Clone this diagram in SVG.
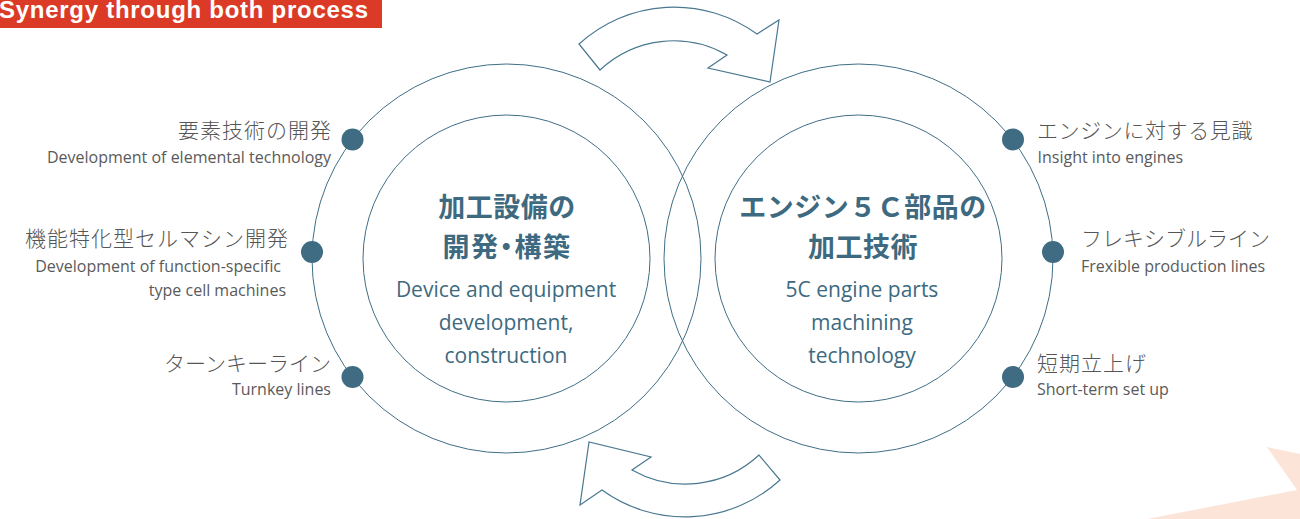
<svg xmlns="http://www.w3.org/2000/svg" width="1300" height="519" viewBox="0 0 1300 519">
<style>
.ring{fill:none;stroke:#3f6e86;stroke-width:1}
.arrow{fill:#ffffff;stroke:#4a7891;stroke-width:1.2;stroke-linejoin:miter}
.dot{fill:#3f6c82}
.jp{font-family:"Noto Sans CJK JP","Noto Sans",sans-serif;font-size:21px;font-weight:300;fill:#555555;letter-spacing:1px}
.kana{letter-spacing:0px}
.en{font-family:"Open Sans","Noto Sans",sans-serif;font-size:16px;fill:#5a5a5a}
.tjp{font-family:"Noto Sans CJK JP","Noto Sans",sans-serif;font-size:27px;font-weight:700;fill:#3d6a80;text-anchor:middle;letter-spacing:0.5px}
.palt{font-feature-settings:"palt" 1;letter-spacing:1.5px}
.ten{font-family:"Open Sans","Noto Sans",sans-serif;font-size:21px;fill:#3d6a80;text-anchor:middle}
.end{text-anchor:end}
</style>
<rect width="1300" height="519" fill="#ffffff"/>
<polygon points="1267,447 1300,454 1300,519 1147,519 1297,490" fill="#fde4d9"/>
<g id="header">
<rect x="0" y="0" width="382" height="28" fill="#db3b26"/>
<text x="-1" y="17.5" font-family="Liberation Sans, Arial, sans-serif" font-size="24" font-weight="700" fill="#ffffff" textLength="369" lengthAdjust="spacing">Synergy through both process</text>
</g>
<g id="node-left">
<circle class="ring" cx="506.5" cy="258.5" r="194.5"/>
<circle class="ring" cx="506.5" cy="258.5" r="143.5"/>
<text class="tjp" x="507" y="217">加工設備の</text>
<text class="tjp palt" x="507" y="257">開発・構築</text>
<text class="ten" x="506" y="297">Device and equipment</text>
<text class="ten" x="506" y="330">development,</text>
<text class="ten" x="506" y="363">construction</text>
</g>
<g id="node-right">
<circle class="ring" cx="858.5" cy="258.5" r="194.5"/>
<circle class="ring" cx="858.5" cy="258.5" r="143.5"/>
<text class="tjp" x="863" y="217">エンジン５Ｃ部品の</text>
<text class="tjp" x="863" y="257">加工技術</text>
<text class="ten" x="862" y="297">5C engine parts</text>
<text class="ten" x="862" y="330">machining</text>
<text class="ten" x="862" y="363">technology</text>
</g>
<g id="connectors">
<path class="arrow" d="M579,44 A141,141 0 0 1 757,34 L779,20 L770,82 L708,68 L727,55 A107.5,107.5 0 0 0 600,70 Z"/>
<path class="arrow" d="M780,480 A141,141 0 0 1 602,490 L580,505 L589,442 L651,457 L632,470 A108,108 0 0 0 759,455 Z"/>
</g>
<g id="label-elemental">
<circle class="dot" cx="352.5" cy="139.5" r="11"/>
<text class="jp end" x="332" y="138">要素技術の開発</text>
<text class="en end" x="331" y="163">Development of elemental technology</text>
</g>
<g id="label-function">
<circle class="dot" cx="312" cy="252" r="11"/>
<text class="jp end" x="289" y="246">機能特化型セルマシン開発</text>
<text class="en end" x="281" y="272">Development of function-specific</text>
<text class="en end" x="286" y="296">type cell machines</text>
</g>
<g id="label-turnkey">
<circle class="dot" cx="352.5" cy="377" r="11"/>
<text class="jp kana end" x="331" y="371">ターンキーライン</text>
<text class="en end" x="331" y="395">Turnkey lines</text>
</g>
<g id="label-insight">
<circle class="dot" cx="1013" cy="139.5" r="11"/>
<text class="jp" x="1037" y="138" style="letter-spacing:0.6px">エンジンに対する見識</text>
<text class="en" x="1037.5" y="163">Insight into engines</text>
</g>
<g id="label-flexible">
<circle class="dot" cx="1053" cy="252" r="11"/>
<text class="jp kana" x="1081" y="246">フレキシブルライン</text>
<text class="en" x="1081" y="272">Frexible production lines</text>
</g>
<g id="label-short">
<circle class="dot" cx="1013" cy="377" r="11"/>
<text class="jp" x="1037" y="371">短期立上げ</text>
<text class="en" x="1037" y="395">Short-term set up</text>
</g>
</svg>
